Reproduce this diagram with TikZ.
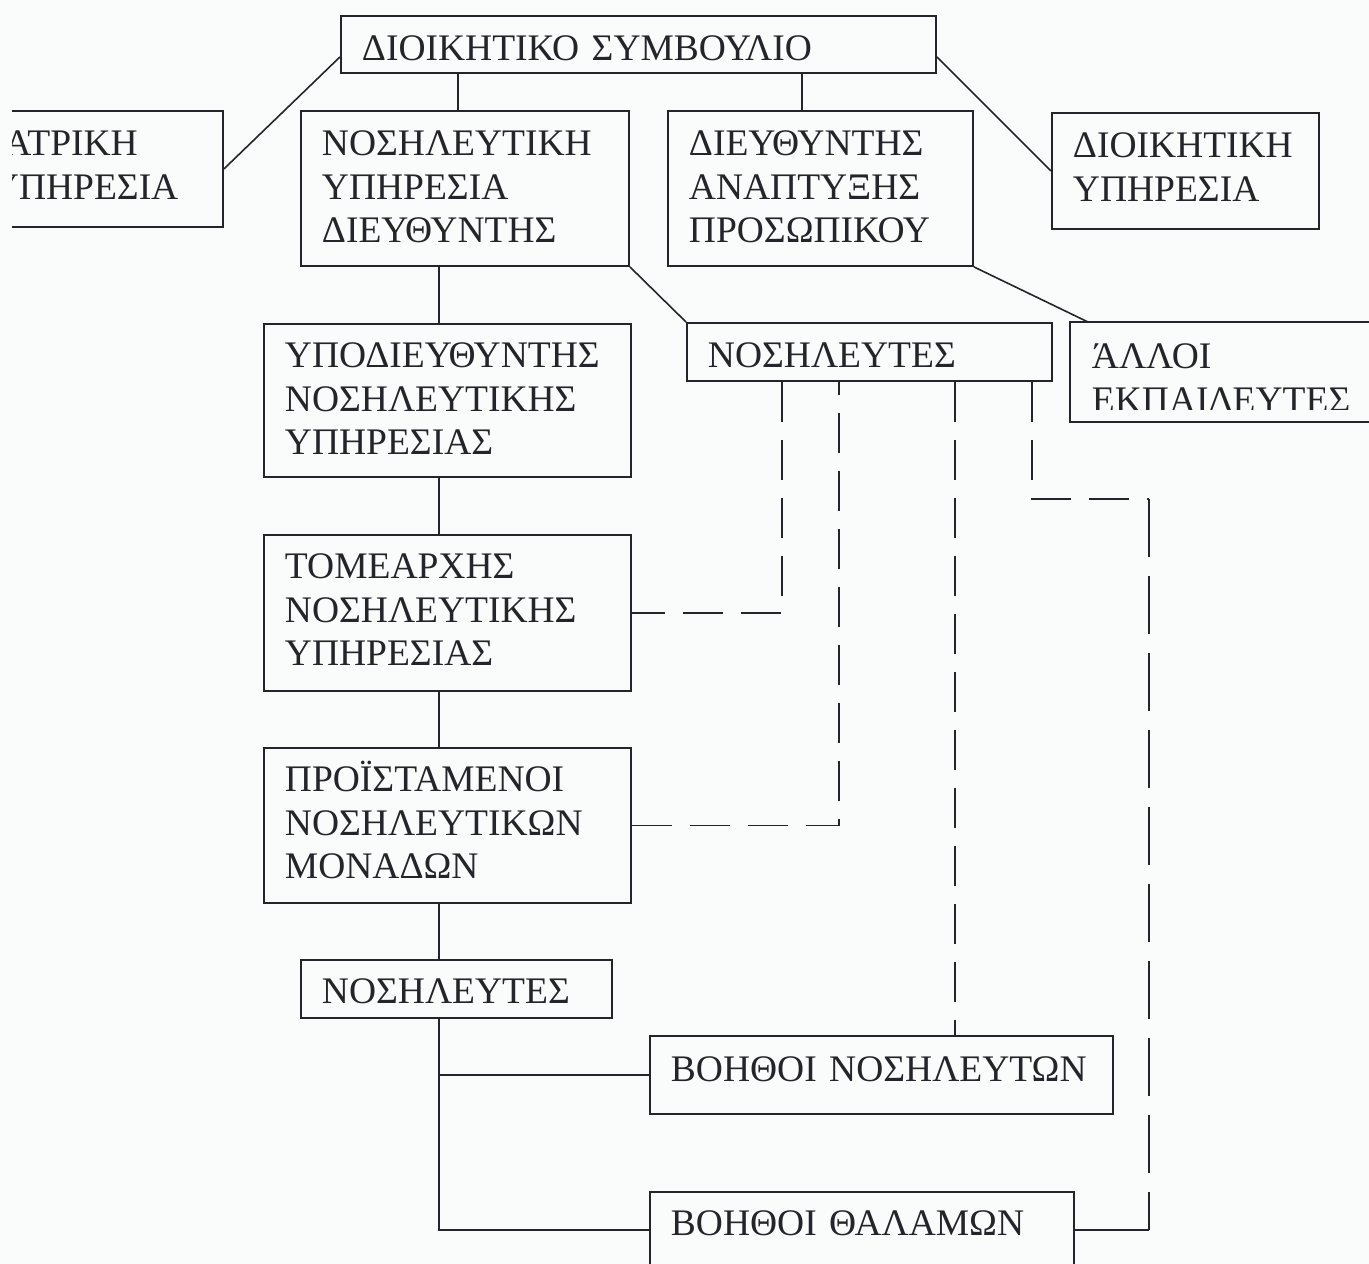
\documentclass[tikz,border=0pt]{standalone}
\usepackage{fontspec}
\setmainfont{Liberation Serif}
\usetikzlibrary{calc}

\definecolor{ink}{RGB}{36,36,42}
\definecolor{paper}{RGB}{250,252,252}

\tikzset{
  orgbox/.style={draw=ink, line width=1.9pt, text=ink, anchor=north west,
    inner xsep=21pt, inner ysep=0pt, align=left,
    font=\fontsize{37.5}{43.5}\selectfont},
  textonly/.style={orgbox, draw=none},
  link/.style={draw=ink, line width=1.6pt},
  dotlink/.style={link, dash pattern=on 40pt off 18pt},
  longdash/.style={link, dash pattern=on 58pt off 19pt}
}

\begin{document}
\begin{tikzpicture}[x=1pt, y=-1pt]
  % page
  \fill[paper] (0,0) rectangle (1369,1264);
  \useasboundingbox (0,0) rectangle (1369,1264);

  % top level
  \node[orgbox, text width=553pt, text height=45pt, text depth=12pt] (ds) at (340,15)
    {ΔΙΟΙΚΗΤΙΚΟ ΣΥΜΒΟΥΛΙΟ};

  % second level
  \begin{scope}
    \clip (12,0) rectangle (300,300);
    \node[orgbox, text width=210pt, text height=45pt, text depth=71pt] (iatr) at (-30,110)
      {ΙΑΤΡΙΚΗ\\ΥΠΗΡΕΣΙΑ};
  \end{scope}
  \node[orgbox, text width=286pt, text height=45pt, text depth=110pt] (nurs) at (300,110)
    {ΝΟΣΗΛΕΥΤΙΚΗ\\ΥΠΗΡΕΣΙΑ\\ΔΙΕΥΘΥΝΤΗΣ};
  \node[orgbox, text width=263pt, text height=45pt, text depth=110pt] (devel) at (667,110)
    {ΔΙΕΥΘΥΝΤΗΣ\\ΑΝΑΠΤΥΞΗΣ\\ΠΡΟΣΩΠΙΚΟΥ};
  \node[orgbox, text width=225pt, text height=45pt, text depth=71pt] (admin) at (1051,112)
    {ΔΙΟΙΚΗΤΙΚΗ\\ΥΠΗΡΕΣΙΑ};

  % nursing line
  \node[orgbox, text width=325pt, text height=44pt, text depth=109pt] (deputy) at (263,323)
    {ΥΠΟΔΙΕΥΘΥΝΤΗΣ\\ΝΟΣΗΛΕΥΤΙΚΗΣ\\ΥΠΗΡΕΣΙΑΣ};
  \node[orgbox, text width=325pt, text height=44pt, text depth=112pt] (sector) at (263,534)
    {ΤΟΜΕΑΡΧΗΣ\\ΝΟΣΗΛΕΥΤΙΚΗΣ\\ΥΠΗΡΕΣΙΑΣ};
  \node[orgbox, text width=325pt, text height=44pt, text depth=111pt] (head) at (263,747)
    {ΠΡΟΪΣΤΑΜΕΝΟΙ\\ΝΟΣΗΛΕΥΤΙΚΩΝ\\ΜΟΝΑΔΩΝ};
  \node[orgbox, text width=269pt, text height=44pt, text depth=14pt] (n2) at (300,959)
    {ΝΟΣΗΛΕΥΤΕΣ};
  \node[orgbox, text width=421pt, text height=46pt, text depth=32pt] (an) at (649,1035)
    {ΒΟΗΘΟΙ ΝΟΣΗΛΕΥΤΩΝ};
  \node[orgbox, text width=382pt, text height=44pt, text depth=32pt] (ward) at (649,1191)
    {ΒΟΗΘΟΙ ΘΑΛΑΜΩΝ};

  % staff boxes on the right
  \node[orgbox, text width=323pt, text height=45pt, text depth=13pt] (n1) at (686,322)
    {ΝΟΣΗΛΕΥΤΕΣ};
  \begin{scope}
    \clip (1070,300) rectangle (1369,409);
    \node[textonly, text width=288pt, text height=46pt, text depth=52pt] (other) at (1070,322)
      {ΆΛΛΟΙ\\ΕΚΠΑΙΔΕΥΤΕΣ};
  \end{scope}
  \draw[draw=ink, line width=1.9pt] (other.north west) rectangle (other.south east);

  % solid connectors from the board
  \draw[link] ($(ds.south west)+(0,-17)$) -- (iatr.east);
  \draw[link] ($(ds.south east)+(0,-17)$) -- (admin.west);
  \path (nurs.north) ++(-7,0) coordinate (c1);
  \draw[link] (c1 |- ds.south) -- (c1);
  \path (devel.north) ++(-18.5,0) coordinate (c2);
  \draw[link] (c2 |- ds.south) -- (c2);

  % nursing spine
  \path (deputy.north) ++(-8.5,0) coordinate (s0);
  \draw[link] (s0 |- nurs.south) -- (s0 |- deputy.north);
  \draw[link] (s0 |- deputy.south) -- (s0 |- sector.north);
  \draw[link] (s0 |- sector.south) -- (s0 |- head.north);
  \draw[link] (s0 |- head.south) -- (s0 |- n2.north);
  \draw[link] (s0 |- n2.south) -- (s0 |- ward.west) -- (ward.west);
  \draw[link] (s0 |- an.west) -- (an.west);

  % diagonal links
  \draw[link] (nurs.south east) -- (n1.north west);
  \draw[link] (devel.south east) -- ($(other.north west)+(18,0)$);

  % dashed links from the nurses box
  \path (n1.south west) ++(96,0) coordinate (k1);
  \path (n1.south west) ++(153,0) coordinate (k2);
  \path (n1.south west) ++(269,0) coordinate (k3);
  \path (n1.south west) ++(346,0) coordinate (k4);
  \path (k4) ++(0,117) coordinate (k4b);
  \path (k4b) ++(117,0) coordinate (k5);

  \draw[dotlink] (k1) -- (k1 |- sector.east) -- (sector.east);
  \draw[dotlink] (head.east) -- (k2 |- head.east) -- (k2);
  \draw[dotlink] (k3) -- (k3 |- an.north);
  \draw[dotlink] (k4) -- (k4b) -- (k5);
  \draw[longdash] (k5) -- (k5 |- ward.east);
  \draw[link] (k5 |- ward.east) -- (ward.east);
\end{tikzpicture}
\end{document}
